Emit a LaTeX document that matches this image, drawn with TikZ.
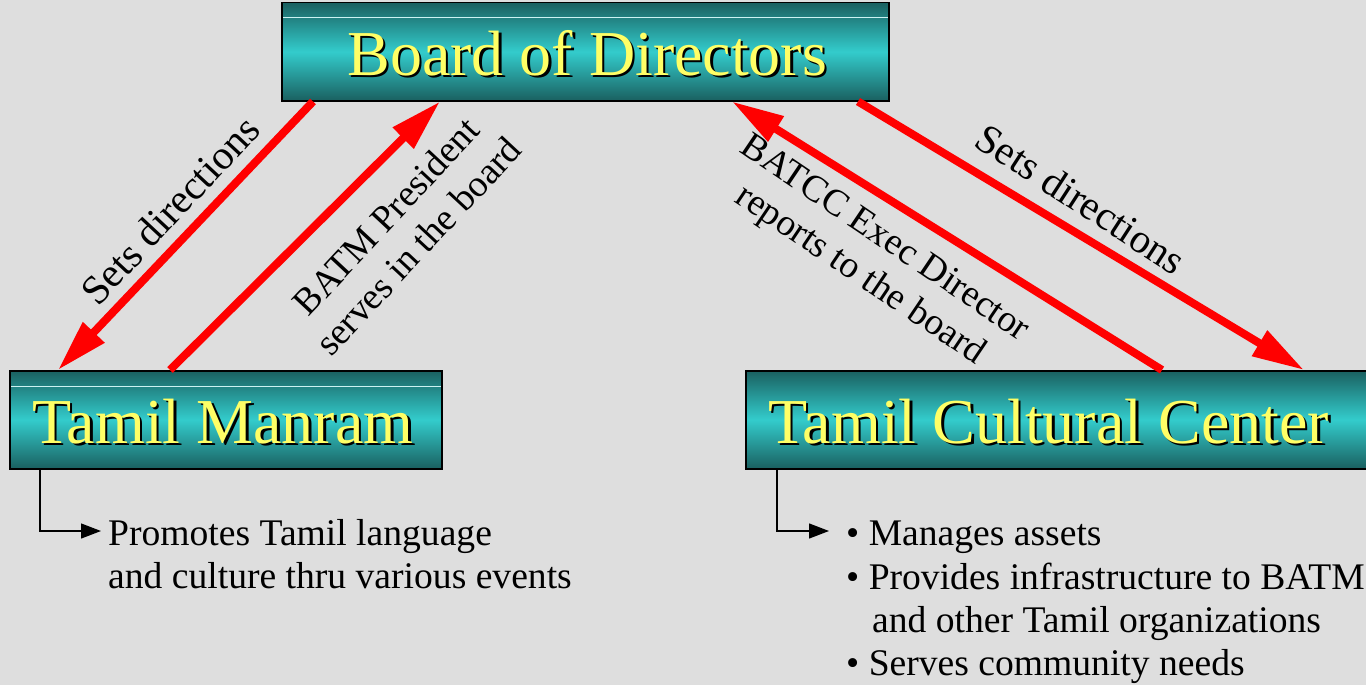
\documentclass[tikz,border=0pt]{standalone}
\usepackage{fontspec}
\setmainfont{Liberation Serif}
\usetikzlibrary{arrows.meta,calc}
\definecolor{bg}{HTML}{DEDEDE}
\definecolor{tealdark}{HTML}{1A6060}
\definecolor{tealbright}{HTML}{33CCCC}
\definecolor{titleyellow}{HTML}{FFFF66}
\definecolor{arrowred}{HTML}{FF0000}
\begin{document}
\begin{tikzpicture}[x=1pt,y=-1pt,
  orgbox/.style={draw=black, line width=1.5pt, top color=tealdark, bottom color=tealdark, middle color=tealbright, inner sep=0pt, minimum height=98pt, anchor=north west},
  hiline/.style={draw=white!75!tealbright, line width=1pt},
  titletext/.style={text=titleyellow, font=\fontsize{64}{70}\selectfont, inner sep=0pt},
  titleshadow/.style={titletext, text=black},
  redarrow/.style={draw=arrowred, line width=8pt, -{Triangle[length=52pt,width=28pt]}},
  hookarrow/.style={draw=black, line width=1.3pt, -{Triangle[length=20pt,width=15pt]}},
  desc/.style={font=\fontsize{37.6}{44}\selectfont, inner sep=0pt, anchor=base west},
  biglabel/.style={font=\fontsize{41}{46}\selectfont, inner sep=0pt, align=center},
  lbl/.style={font=\fontsize{37.5}{44}\selectfont, inner sep=0pt, align=center}
]
\useasboundingbox (0,0) rectangle (1366,685);
\clip (0,0) rectangle (1366,685);
\fill[bg] (0,0) rectangle (1366,685);

% boxes
\node[orgbox, minimum width=607pt] (bod) at (281,2) {};
\node[orgbox, minimum width=432pt] (tm) at (9,370) {};
\node[orgbox, minimum width=640pt] (tcc) at (745,370) {};

\draw[hiline] ($(bod.north west)+(2,16)$) -- ($(bod.north east)+(-2,16)$);
\draw[hiline] ($(tm.north west)+(2,16)$) -- ($(tm.north east)+(-2,16)$);

% titles
\node[titleshadow, anchor=base] at ($(bod.north)+(4.5,75.5)$) {Board of Directors};
\node[titletext, anchor=base] (bodtitle) at ($(bod.north)+(2,73)$) {Board of Directors};
\node[titleshadow, anchor=base west] at ($(tm.north west)+(25.5,75.5)$) {Tamil Manram};
\node[titletext, anchor=base west] (tmtitle) at ($(tm.north west)+(23,73)$) {Tamil Manram};
\node[titleshadow, anchor=base west] at ($(tcc.north west)+(25.5,75.5)$) {Tamil Cultural Center};
\node[titletext, anchor=base west] (tcctitle) at ($(tcc.north west)+(23,73)$) {Tamil Cultural Center};

% red connectors
\draw[redarrow] ($(bod.south west)+(32,0)$) -- ($(tm.north west)+(49,0)$);
\draw[redarrow] ($(tm.north west)+(161,0)$) -- ($(bod.south west)+(159,0)$);
\draw[redarrow] ($(tcc.north west)+(417,0)$) -- ($(bod.south west)+(451,0)$);
\draw[redarrow] ($(bod.south west)+(577,0)$) -- ($(tcc.north west)+(559,0)$);

% arrow labels
\node[biglabel, rotate=47] (l1) at (170,210) {Sets directions};
\node[lbl, rotate=47] (l2) at (402,231) {BATM President\\serves in the board};
\node[lbl, rotate=-34] (l3) at (872,258) {BATCC Exec Director\\reports to the board};
\node[biglabel, rotate=-33] (l4) at (1081,199) {Sets directions};

% descriptions
\node[desc] (tm1) at (108,545) {Promotes Tamil language};
\node[desc] (tm2) at (108,588) {and culture thru various events};
\node[desc] (tc1) at (846,545) {• Manages assets};
\node[desc] (tc2) at (846,589) {• Provides infrastructure to BATM};
\node[desc] (tc3) at (872,632) {and other Tamil organizations};
\node[desc] (tc4) at (846,675) {• Serves community needs};

\coordinate (tmhook) at (101,531);
\coordinate (tchook) at (829,531);
\draw[hookarrow] ($(tm.south west)+(31,0)$) |- (tmhook);
\draw[hookarrow] ($(tcc.south west)+(32,0)$) |- (tchook);
\end{tikzpicture}
\end{document}
